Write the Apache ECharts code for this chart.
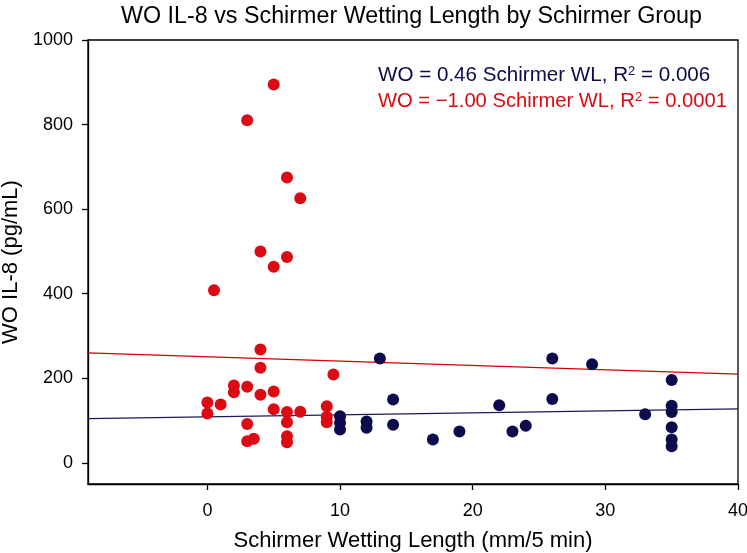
<!DOCTYPE html>
<html><head><meta charset="utf-8">
<script src="https://cdn.jsdelivr.net/npm/echarts@6/dist/echarts.min.js"></script>
<style>html,body{margin:0;padding:0;background:#fff}#c{width:747px;height:553px}</style>
</head><body><div id="c"></div>
<script>
// Tick labels
const xTicks = [0, 10, 20, 30, 40];
const yTicks = [0, 200, 400, 600, 800, 1000];

// Low Schirmer group (red)
const lowX = [0, 0, 0.5, 1, 2, 2, 3, 3, 3, 3, 3.5, 4, 4, 4, 4, 5, 5, 5, 5, 6, 6, 6, 6, 6, 6, 7, 7, 9, 9, 9, 9.5];
const lowY = [143, 117, 408, 138, 183, 167, 810, 180, 92, 51, 57, 500, 268, 225, 161, 895, 464, 169, 127, 675, 487, 120, 96, 63, 49, 626, 121, 134, 109, 96, 209];

// High Schirmer group (navy)
const highX = [10, 10, 10, 12, 12, 13, 14, 14, 17, 19, 22, 23, 24, 26, 26, 29, 33, 35, 35, 35, 35, 35, 35];
const highY = [110, 95, 79, 98, 83, 247, 150, 90, 55, 74, 136, 74, 88, 247, 151, 233, 115, 196, 135, 120, 84, 55, 39];

// Regression line end points
const lowFit = [[-9, 260], [40, 210]];
const highFit = [[-9, 104.7], [40, 127.6]];

const RED = '#dc0a12';
const NAVY = '#0b0b4e';
const FONT = 'Liberation Sans, Arial, sans-serif';

const zip = (xs, ys) => xs.map((x, i) => [x, ys[i]]);

const chart = echarts.init(document.getElementById('c'), null, {renderer: 'canvas'});
chart.setOption({
  animation: false,
  backgroundColor: '#fff',
  textStyle: {fontFamily: FONT},
  title: {
    text: 'WO IL-8 vs Schirmer Wetting Length by Schirmer Group',
    left: 116, top: 0,
    textStyle: {fontFamily: FONT, fontSize: 23.3, fontWeight: 'normal', color: '#000'}
  },
  grid: {left: 88, top: 40, right: 9, bottom: 69, containLabel: false, outerBoundsMode: 'none',
    show: true, borderColor: '#000', borderWidth: 1.3, backgroundColor: 'transparent'},
  xAxis: {
    type: 'value', min: -9, max: 40,
    name: 'Schirmer Wetting Length (mm/5 min)', nameLocation: 'middle', nameGap: 46,
    nameTextStyle: {fontFamily: FONT, fontSize: 22, color: '#000'},
    axisLine: {show: true, onZero: false, lineStyle: {color: '#000', width: 1.3}},
    axisTick: {show: true, inside: false, length: 6, customValues: xTicks, lineStyle: {color: '#000', width: 1.3}},
    axisLabel: {customValues: xTicks, fontFamily: FONT, fontSize: 18, color: '#000', margin: 18,
      formatter: v => String(v)},
    splitLine: {show: false}
  },
  yAxis: {
    type: 'value', min: -50, max: 1000,
    name: 'WO IL-8 (pg/mL)', nameLocation: 'middle', nameGap: 57, nameRotate: 90,
    nameTextStyle: {fontFamily: FONT, fontSize: 22, color: '#000'},
    axisLine: {show: true, onZero: false, lineStyle: {color: '#000', width: 1.3}},
    axisTick: {show: true, inside: false, length: 6, customValues: yTicks, lineStyle: {color: '#000', width: 1.3}},
    axisLabel: {customValues: yTicks, fontFamily: FONT, fontSize: 18, color: '#000', margin: 15,
      formatter: v => String(v)},
    splitLine: {show: false}
  },
  graphic: [
    {type: 'text', left: 378, top: 65, z: 10, style: {
      text: 'WO = 0.46 Schirmer WL, R{s|2} = 0.006', fill: NAVY, font: '20.6px ' + FONT,
      rich: {s: {fontSize: 13, verticalAlign: 'top', fill: NAVY, padding: [0, 0, 8, 0]}}
    }},
    {type: 'text', left: 378, top: 91, z: 10, style: {
      text: 'WO = \u22121.00 Schirmer WL, R{s|2} = 0.0001', fill: RED, font: '20.2px ' + FONT,
      rich: {s: {fontSize: 13, verticalAlign: 'top', fill: RED, padding: [0, 0, 8, 0]}}
    }}
  ],
  series: [
    {type: 'line', data: highFit, symbol: 'none', z: 2, lineStyle: {color: '#1a1a60', width: 1.3}},
    {type: 'line', data: lowFit, symbol: 'none', z: 2, lineStyle: {color: '#d80000', width: 1.3}},
    {type: 'scatter', data: zip(lowX, lowY), symbolSize: 12, z: 5, itemStyle: {color: RED, opacity: 1}},
    {type: 'scatter', data: zip(highX, highY), symbolSize: 12, z: 5, itemStyle: {color: NAVY, opacity: 1}}
  ]
});
</script>
</body></html>
